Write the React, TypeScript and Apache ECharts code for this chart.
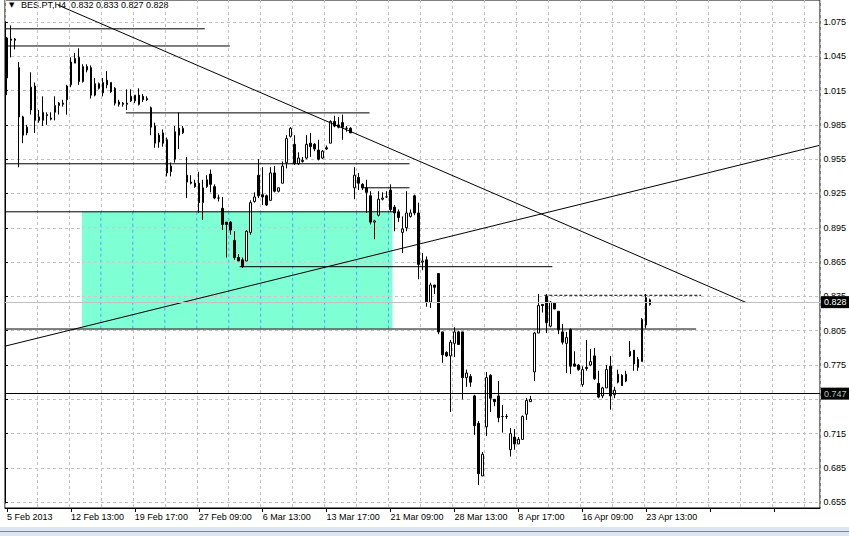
import React, { useEffect, useRef } from "react";
import * as echarts from "echarts";

const FONT = "Liberation Sans";

const symbolTitle = "BES.PT,H4";
const lastQuote = ["0.832", "0.833", "0.827", "0.828"];

// OHLC of each H4 bar
const opens = [
  1.026, 1.060, 1.060, 1.035, 0.992, 0.978, 0.998, 1.019, 0.992, 0.989,
  0.993, 0.991, 0.996, 1.002, 1.003, 1.007, 1.020, 1.039, 1.044, 1.023,
  1.036, 1.035, 1.011, 1.021, 1.013, 1.024, 1.022, 1.017, 1.005, 1.004,
  1.003, 1.006, 1.006, 1.011, 1.010, 1.008, 1.000, 0.984, 0.976, 0.978,
  0.972, 0.944, 0.955, 0.982, 0.978, 0.941, 0.935, 0.934, 0.934, 0.917,
  0.931, 0.942, 0.931, 0.921, 0.912, 0.900, 0.900, 0.884, 0.869, 0.867,
  0.866, 0.891, 0.918, 0.941, 0.924, 0.923, 0.919, 0.943, 0.927, 0.934,
  0.952, 0.975, 0.968, 0.951, 0.953, 0.956, 0.969, 0.968, 0.963, 0.956,
  0.965, 0.969, 0.988, 0.985, 0.987, 0.982, 0.982, 0.930, 0.939, 0.933,
  0.930, 0.923, 0.900, 0.906, 0.920, 0.922, 0.928, 0.913, 0.909, 0.891,
  0.895, 0.905, 0.923, 0.908, 0.865, 0.867, 0.830, 0.845, 0.855, 0.804,
  0.786, 0.783, 0.794, 0.804, 0.804, 0.764, 0.765, 0.748, 0.724, 0.678,
  0.721, 0.766, 0.745, 0.748, 0.730, 0.730, 0.701, 0.712, 0.706, 0.710,
  0.732, 0.743, 0.769, 0.803, 0.828, 0.835, 0.809, 0.829, 0.822, 0.804,
  0.794, 0.806, 0.776, 0.775, 0.758, 0.773, 0.775, 0.783, 0.759, 0.748,
  0.755, 0.774, 0.749, 0.760, 0.766, 0.761, 0.783, 0.788, 0.780, 0.778,
  0.810, 0.832,
];
const highs = [
  1.062, 1.072, 1.061, 1.040, 0.993, 0.985, 1.031, 1.022, 0.998, 1.010,
  0.996, 0.996, 1.010, 1.005, 1.007, 1.020, 1.044, 1.048, 1.052, 1.038,
  1.038, 1.037, 1.026, 1.022, 1.026, 1.032, 1.022, 1.018, 1.007, 1.005,
  1.016, 1.016, 1.011, 1.017, 1.012, 1.010, 1.001, 0.987, 0.978, 0.981,
  0.974, 0.952, 0.984, 0.996, 0.984, 0.957, 0.941, 0.937, 0.944, 0.937,
  0.941, 0.946, 0.933, 0.924, 0.922, 0.900, 0.901, 0.892, 0.872, 0.869,
  0.893, 0.919, 0.926, 0.955, 0.948, 0.924, 0.948, 0.949, 0.930, 0.953,
  0.976, 0.983, 0.976, 0.961, 0.957, 0.976, 0.978, 0.969, 0.972, 0.963,
  0.967, 0.989, 0.993, 0.992, 0.994, 0.984, 0.983, 0.948, 0.943, 0.934,
  0.937, 0.927, 0.902, 0.927, 0.926, 0.927, 0.933, 0.915, 0.911, 0.905,
  0.927, 0.911, 0.924, 0.917, 0.873, 0.870, 0.847, 0.845, 0.855, 0.804,
  0.787, 0.797, 0.808, 0.805, 0.804, 0.771, 0.767, 0.749, 0.726, 0.699,
  0.769, 0.767, 0.745, 0.761, 0.740, 0.732, 0.720, 0.719, 0.712, 0.731,
  0.746, 0.748, 0.804, 0.837, 0.828, 0.837, 0.831, 0.830, 0.822, 0.811,
  0.804, 0.807, 0.787, 0.776, 0.774, 0.797, 0.789, 0.790, 0.770, 0.756,
  0.775, 0.783, 0.756, 0.771, 0.767, 0.770, 0.796, 0.788, 0.782, 0.816,
  0.837, 0.833,
];
const lows = [
  1.011, 1.044, 1.051, 0.948, 0.969, 0.976, 0.994, 0.978, 0.987, 0.984,
  0.985, 0.989, 0.989, 0.994, 1.001, 0.994, 1.018, 1.039, 1.020, 1.022,
  1.031, 1.008, 1.010, 1.016, 1.010, 1.017, 1.013, 1.002, 1.001, 1.001,
  0.998, 1.005, 1.004, 1.002, 1.005, 1.006, 0.976, 0.965, 0.965, 0.966,
  0.940, 0.940, 0.952, 0.964, 0.977, 0.921, 0.933, 0.930, 0.908, 0.902,
  0.930, 0.926, 0.920, 0.918, 0.893, 0.869, 0.889, 0.867, 0.866, 0.860,
  0.866, 0.889, 0.917, 0.921, 0.915, 0.914, 0.919, 0.926, 0.926, 0.934,
  0.947, 0.974, 0.950, 0.950, 0.952, 0.955, 0.957, 0.962, 0.954, 0.955,
  0.963, 0.969, 0.983, 0.982, 0.972, 0.979, 0.978, 0.920, 0.928, 0.928,
  0.908, 0.898, 0.885, 0.905, 0.919, 0.921, 0.909, 0.892, 0.900, 0.873,
  0.892, 0.904, 0.906, 0.850, 0.858, 0.826, 0.825, 0.837, 0.802, 0.777,
  0.782, 0.734, 0.782, 0.793, 0.745, 0.756, 0.756, 0.714, 0.670, 0.678,
  0.713, 0.734, 0.739, 0.725, 0.716, 0.728, 0.695, 0.701, 0.706, 0.710,
  0.727, 0.743, 0.761, 0.803, 0.821, 0.803, 0.808, 0.824, 0.802, 0.793,
  0.768, 0.767, 0.774, 0.770, 0.756, 0.770, 0.774, 0.762, 0.746, 0.746,
  0.755, 0.736, 0.746, 0.759, 0.757, 0.760, 0.782, 0.770, 0.770, 0.778,
  0.807, 0.827,
];
const closes = [
  1.061, 1.059, 1.059, 0.992, 0.976, 0.983, 1.018, 0.989, 0.989, 0.996,
  0.994, 0.990, 1.002, 1.004, 1.004, 1.019, 1.040, 1.043, 1.023, 1.036,
  1.033, 1.011, 1.021, 1.017, 1.022, 1.020, 1.014, 1.004, 1.003, 1.003,
  1.004, 1.010, 1.011, 1.003, 1.007, 1.007, 0.983, 0.969, 0.970, 0.969,
  0.943, 0.949, 0.979, 0.976, 0.982, 0.935, 0.934, 0.931, 0.917, 0.930,
  0.937, 0.933, 0.921, 0.921, 0.898, 0.898, 0.893, 0.869, 0.866, 0.861,
  0.892, 0.917, 0.922, 0.923, 0.922, 0.915, 0.943, 0.927, 0.930, 0.949,
  0.973, 0.982, 0.951, 0.956, 0.954, 0.968, 0.966, 0.964, 0.955, 0.962,
  0.964, 0.988, 0.984, 0.983, 0.983, 0.982, 0.978, 0.941, 0.934, 0.930,
  0.926, 0.900, 0.901, 0.920, 0.921, 0.922, 0.911, 0.908, 0.904, 0.894,
  0.908, 0.908, 0.908, 0.863, 0.866, 0.830, 0.845, 0.843, 0.804, 0.784,
  0.783, 0.795, 0.804, 0.793, 0.764, 0.768, 0.760, 0.722, 0.680, 0.697,
  0.764, 0.746, 0.743, 0.729, 0.730, 0.730, 0.715, 0.706, 0.710, 0.730,
  0.744, 0.745, 0.803, 0.827, 0.827, 0.812, 0.830, 0.824, 0.806, 0.795,
  0.799, 0.774, 0.774, 0.771, 0.771, 0.772, 0.778, 0.763, 0.747, 0.755,
  0.771, 0.748, 0.753, 0.767, 0.757, 0.767, 0.787, 0.776, 0.773, 0.815,
  0.834, 0.828,
];

// trading calendar of the chart (H4 bars)
const firstDay = "2013-02-05";
const sessionTimes = ["09:00", "13:00", "17:00"];
const marketHolidays = ["2013-03-29", "2013-04-01"];
const monthNames = ["Jan", "Feb", "Mar", "Apr", "May", "Jun", "Jul", "Aug", "Sep", "Oct", "Nov", "Dec"];
const chartSlots = 204; // bars plus the empty right shift
const labelEvery = 16;
const gridEvery = 8;

// price scale
const viewMin = 0.65;
const viewMax = 1.0942;
const tickMin = 0.655;
const tickMax = 1.075;
const tickStep = 0.03;

// drawn objects: [barFrom, priceFrom, barTo, priceTo]
const levelLines = [
  [-0.5, 1.069, 49.5, 1.069],
  [-0.5, 1.054, 55.75, 1.054],
  [29.75, 0.9955, 90.75, 0.9955],
  [-0.5, 0.951, 100.75, 0.951],
  [89, 0.93, 100.75, 0.93],
  [-0.5, 0.909, 97, 0.909],
  [58.25, 0.861, 136.5, 0.861],
  [-0.5, 0.8065, 172.5, 0.8065],
];
const trendLines = [
  [12.75, 1.0898, 185, 0.8297],
  [-0.5, 0.7915, 203.25, 0.967],
];
const dashedLines = [[134.5, 0.836, 173.75, 0.836]];
const zoneRect = [18.75, 0.909, 96.5, 0.807];
const supportLevel = 0.747;
const bidLevel = 0.828;

function buildCategories(n: number): string[] {
  const out: string[] = [];
  const d = new Date(firstDay + "T00:00:00Z");
  while (out.length < n) {
    const dow = d.getUTCDay();
    const iso = d.toISOString().slice(0, 10);
    if (dow !== 0 && dow !== 6 && !marketHolidays.includes(iso)) {
      for (const t of sessionTimes) {
        if (out.length < n) out.push(`${d.getUTCDate()} ${monthNames[d.getUTCMonth()]} ${t}`);
      }
    }
    d.setUTCDate(d.getUTCDate() + 1);
  }
  return out;
}

function segSeries(seg: number[], z: number, color: string, type: any = "solid") {
  return {
    type: "line",
    xAxisIndex: 1,
    yAxisIndex: 0,
    data: [
      [seg[0], seg[1]],
      [seg[2], seg[3]],
    ],
    symbol: "none",
    silent: true,
    z,
    lineStyle: { color, width: 1, type },
  };
}

export default function App() {
  const ref = useRef<HTMLDivElement>(null);

  useEffect(() => {
    if (!ref.current) return;
    const chart = echarts.init(ref.current, null, { renderer: "svg" });

    const bars = buildCategories(opens.length);
    const categories = bars.concat(new Array(chartSlots - bars.length).fill(""));
    const candleData = opens.map((o, i) => [o, closes[i], lows[i], highs[i]]);

    const ticks: number[] = [];
    for (let v = tickMin; v <= tickMax + 1e-9; v += tickStep) ticks.push(Math.round(v * 1000) / 1000);

    // grid lines seen through the zone rectangle
    const zoneGrid: any[] = [];
    for (let b = gridEvery; b < chartSlots; b += gridEvery) {
      const x = b - 0.5;
      if (x > zoneRect[0] && x < zoneRect[2]) {
        zoneGrid.push(segSeries([x, zoneRect[1], x, zoneRect[3]], 2, "#4aa4ff", [3, 3]));
      }
    }
    ticks.forEach((t) => {
      if (t < zoneRect[1] && t > zoneRect[3]) {
        zoneGrid.push(segSeries([zoneRect[0], t, zoneRect[2], t], 2, "#f2b2c6", [3, 3]));
      }
    });

    // a tick label that the price box of the support line covers entirely
    const coveredTick = (v: number) => Math.abs(v - supportLevel) < 0.006;

    const option: any = {
      animation: false,
      textStyle: { fontFamily: FONT },
      grid: [
        { left: 5, right: 29, top: 0, bottom: 28, show: true, borderColor: "#000", borderWidth: 1, backgroundColor: "transparent" },
        { left: 5, right: 29, top: 21.95, bottom: 33.72, show: false },
      ],
      xAxis: [
        {
          type: "category",
          gridIndex: 0,
          data: categories,
          boundaryGap: true,
          axisLine: { show: true, lineStyle: { color: "#000", width: 1 } },
          axisTick: {
            show: true,
            interval: (i: number) => i % labelEvery === 0,
            alignWithLabel: true,
            length: 4,
            lineStyle: { color: "#000" },
          },
          axisLabel: {
            show: true,
            interval: (i: number) => i % labelEvery === 0,
            formatter: (v: string, i: number) => (i === 0 ? v.replace(/ \d\d:\d\d$/, " 2013") : v),
            align: "left",
            fontSize: 9,
            color: "#000",
            margin: 4,
            fontFamily: FONT,
          },
          splitLine: {
            show: true,
            interval: (i: number) => i % gridEvery === 0,
            lineStyle: { color: "#c0c0c0", type: [3, 3], width: 1 },
          },
        },
        { type: "value", gridIndex: 0, min: -0.5, max: chartSlots - 0.5, show: false },
        { type: "value", gridIndex: 1, min: 0, max: 1, show: false },
      ],
      yAxis: [
        { type: "value", gridIndex: 0, min: viewMin, max: viewMax, show: false, splitLine: { show: false } },
        {
          type: "value",
          gridIndex: 1,
          position: "right",
          min: tickMin,
          max: tickMax,
          interval: tickStep,
          axisLine: { show: true, lineStyle: { color: "#000" } },
          axisTick: { show: true, length: 3, lineStyle: { color: "#000" } },
          axisLabel: {
            fontSize: 9,
            color: "#000",
            margin: 4,
            fontFamily: FONT,
            formatter: (v: number) => (coveredTick(v) ? "" : v.toFixed(3)),
          },
          splitLine: { show: true, lineStyle: { color: "#c0c0c0", type: [3, 3], width: 1 } },
        },
      ],
      graphic: [
        { type: "text", x: 9, y: 1, style: { text: "▼", fontSize: 7, fill: "#000", verticalAlign: "top", fontFamily: "DejaVu Sans" } },
        {
          type: "text",
          x: 21,
          y: 0,
          style: { text: `${symbolTitle}  ${lastQuote.join(" ")}`, fontSize: 9, fill: "#000", verticalAlign: "top", fontFamily: FONT },
        },
        { type: "rect", shape: { x: 0, y: 527, width: 849, height: 9 }, style: { fill: "#dde6f0" } },
        { type: "rect", shape: { x: 0, y: 531, width: 849, height: 1 }, style: { fill: "#7d8796" } },
      ],
      series: [
        {
          type: "line",
          xAxisIndex: 1,
          yAxisIndex: 0,
          data: [[zoneRect[0], zoneRect[1]]],
          symbol: "none",
          showSymbol: false,
          silent: true,
          z: 1,
          lineStyle: { width: 0, opacity: 0 },
          markArea: {
            silent: true,
            itemStyle: { color: "#7fffd4" },
            data: [[{ coord: [zoneRect[0], zoneRect[1]] }, { coord: [zoneRect[2], zoneRect[3]] }]],
          },
        },
        ...zoneGrid,
        {
          type: "candlestick",
          xAxisIndex: 0,
          yAxisIndex: 0,
          data: candleData,
          barWidth: 2,
          silent: true,
          z: 3,
          itemStyle: {
            color: "#fff",
            color0: "#000",
            borderColor: "#000",
            borderColor0: "#000",
            borderColorDoji: "#000",
            borderWidth: 1,
          },
        },
        ...levelLines.map((s) => segSeries(s, 4, "#000")),
        ...trendLines.map((s) => segSeries(s, 4, "#000")),
        ...dashedLines.map((s) => segSeries(s, 4, "#000", [3, 2])),
        {
          type: "line",
          xAxisIndex: 1,
          yAxisIndex: 0,
          data: [],
          silent: true,
          z: 5,
          markLine: {
            silent: true,
            symbol: ["none", "none"],
            animation: false,
            data: [
              {
                yAxis: bidLevel,
                lineStyle: { color: "#c0c0c0", width: 1, type: "solid" },
                label: {
                  show: true,
                  position: "end",
                  formatter: bidLevel.toFixed(3),
                  color: "#fff",
                  backgroundColor: "#000",
                  padding: [2, 4, 1, 3],
                  fontSize: 9,
                  fontFamily: FONT,
                  distance: 1,
                },
              },
              {
                yAxis: supportLevel,
                lineStyle: { color: "#000", width: 1, type: "solid" },
                label: {
                  show: true,
                  position: "end",
                  formatter: supportLevel.toFixed(3),
                  color: "#b8c8b8",
                  backgroundColor: "#000",
                  padding: [2, 4, 1, 3],
                  fontSize: 9,
                  fontFamily: FONT,
                  distance: 1,
                },
              },
            ],
          },
        },
      ],
    };

    chart.setOption(option);
    return () => chart.dispose();
  }, []);

  return (
    <div
      ref={ref}
      style={{ position: "absolute", left: 0, top: 0, width: 849, height: 536, background: "#fff" }}
    />
  );
}
